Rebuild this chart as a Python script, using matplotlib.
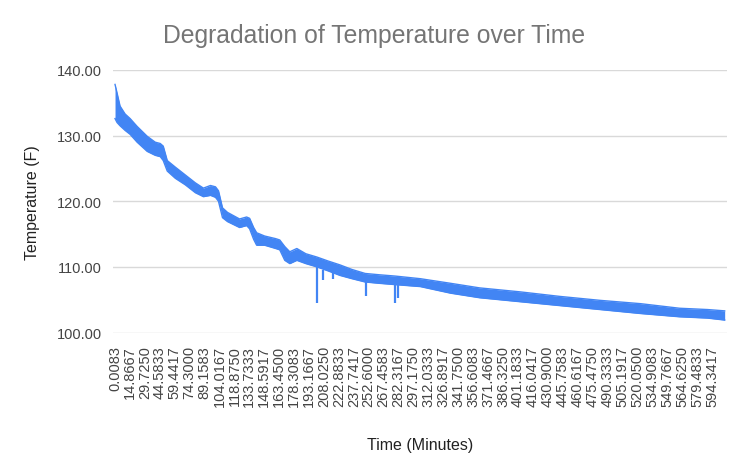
import numpy as np
import matplotlib.pyplot as plt

# temperature band (minutes, upper edge, lower edge)
minutes = [0, 2, 5, 10, 15, 22, 32, 40, 45, 48, 52, 60, 70, 80, 88, 95, 100, 103,
           107, 112, 124, 131, 134, 138, 141, 149, 160, 164, 169, 174, 181, 190,
           201, 212, 224, 236, 249, 263, 279, 304, 334, 363, 403, 443, 483, 523,
           562, 590, 607]
temp_high = [137.8, 136.5, 134.5, 133.3, 132.6, 131.4, 129.9, 129.0, 128.8, 128.4,
             126.2, 125.2, 124.0, 122.8, 122.0, 122.4, 122.2, 121.6, 119.0, 118.3,
             117.3, 117.6, 117.4, 116.0, 115.2, 114.7, 114.3, 114.1, 113.1, 112.3,
             112.8, 112.0, 111.5, 110.9, 110.3, 109.6, 109.0, 108.8, 108.6, 108.2,
             107.5, 106.8, 106.2, 105.5, 104.9, 104.4, 103.7, 103.5, 103.3]
temp_low = [132.6, 132.0, 131.5, 130.8, 130.2, 129.0, 127.6, 127.0, 126.8, 126.2,
            124.6, 123.5, 122.5, 121.3, 120.7, 120.9, 120.6, 120.0, 117.5, 116.9,
            116.0, 116.3, 115.8, 114.2, 113.3, 113.3, 112.8, 112.6, 111.0, 110.5,
            111.0, 110.5, 110.0, 109.4, 108.7, 108.2, 107.7, 107.5, 107.3, 107.0,
            106.0, 105.3, 104.7, 104.1, 103.5, 102.9, 102.4, 102.2, 101.9]

# short sensor dropouts
dip_minutes = [201, 207.5, 217, 250, 279, 282]
dip_from = [110.5, 109.5, 109.3, 108.3, 108.0, 107.9]
dip_temp = [104.5, 108.0, 108.2, 105.6, 104.5, 105.2]

tick_labels = ['0.0083', '14.8667', '29.7250', '44.5833', '59.4417', '74.3000',
               '89.1583', '104.0167', '118.8750', '133.7333', '148.5917', '163.4500',
               '178.3083', '193.1667', '208.0250', '222.8833', '237.7417', '252.6000',
               '267.4583', '282.3167', '297.1750', '312.0333', '326.8917', '341.7500',
               '356.6083', '371.4667', '386.3250', '401.1833', '416.0417', '430.9000',
               '445.7583', '460.6167', '475.4750', '490.3333', '505.1917', '520.0500',
               '534.9083', '549.7667', '564.6250', '579.4833', '594.3417']

plt.rcParams['font.family'] = ['Liberation Sans', 'DejaVu Sans']
blue = '#4285F4'

fig = plt.figure(figsize=(7.49, 4.64), dpi=100)
ax = fig.add_axes([0.1509, 0.2812, 0.8197, 0.5658])

ax.fill_between(minutes, temp_low, temp_high, color=blue, linewidth=0)
ax.plot(minutes, temp_high, color=blue, linewidth=1.0)
ax.plot(minutes, temp_low, color=blue, linewidth=1.0)
ax.vlines(dip_minutes, dip_temp, dip_from, color=blue, linewidth=1.6)

ax.set_xlim(-2, 609.3)
ax.set_ylim(100, 140)
ax.set_yticks([100, 110, 120, 130, 140])
ax.set_yticklabels(['%.2f' % v for v in [100, 110, 120, 130, 140]])
ax.set_xticks([float(s) for s in tick_labels])
ax.set_xticklabels(tick_labels, rotation=90)

ax.grid(axis='y', color='#d9d9d9', linewidth=1)
ax.set_axisbelow(True)
for s in ax.spines.values():
    s.set_visible(False)
ax.tick_params(length=0, labelsize=10.5, labelcolor='#444444')
ax.tick_params(axis='y', pad=8)
ax.tick_params(axis='x', pad=9)

ax.set_xlabel('Time (Minutes)', fontsize=11.5, color='#222222', labelpad=22)
ax.set_ylabel('Temperature (F)', fontsize=11.5, color='#222222', labelpad=12)
fig.text(0.4993, 0.922, 'Degradation of Temperature over Time', fontsize=17.8,
         color='#757575', ha='center', va='center')

fig.savefig('out.png', dpi=100)
